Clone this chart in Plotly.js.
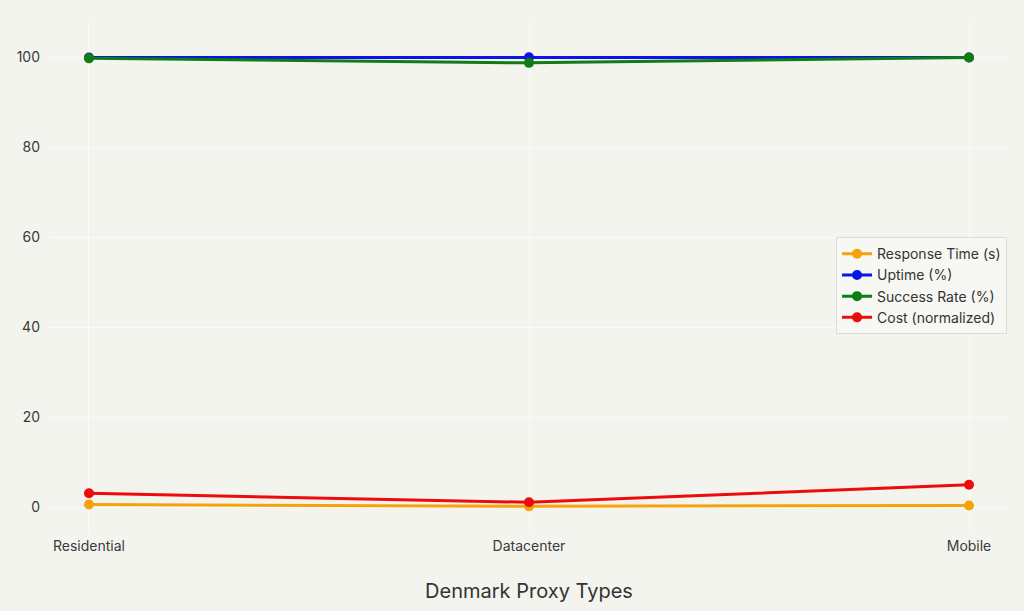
<!DOCTYPE html>
<html>
<head>
<meta charset="utf-8">
<script src="https://cdn.plot.ly/plotly-3.0.1.min.js"></script>
<style>
  html, body { margin: 0; padding: 0; background: #f4f4ef; }
  #chart { width: 1024px; height: 611px; }
</style>
</head>
<body>
<div id="chart"></div>
<script>
const proxyTypes = ['Residential', 'Datacenter', 'Mobile'];
const responseTime = [0.6, 0.2, 0.4];
const uptime = [99.9, 99.95, 99.9];
const successRate = [99.7, 98.7, 99.9];
const costNormalized = [3.1, 1.1, 5.0];

function series(name, values, color) {
  return {
    x: proxyTypes,
    y: values,
    name,
    type: 'scatter',
    mode: 'lines+markers',
    line: { color, width: 3 },
    marker: { color, size: 10 },
  };
}

const traces = [
  series('Response Time (s)', responseTime, '#f6a20a'),
  series('Uptime (%)', uptime, '#0a14e6'),
  series('Success Rate (%)', successRate, '#0d7d14'),
  series('Cost (normalized)', costNormalized, '#ee0b0b'),
];

const layout = {
  width: 1024,
  height: 611,
  margin: { l: 50, r: 16, t: 21, b: 79 },
  paper_bgcolor: '#f4f4ef',
  plot_bgcolor: '#f4f4ef',
  font: { family: 'Inter, "Liberation Sans", sans-serif', color: '#3a3a3a', size: 14 },
  xaxis: {
    type: 'category',
    range: [-0.0886, 2.0886],
    showgrid: true,
    gridcolor: '#fbfbf8',
    zeroline: false,
    ticks: '',
    ticklabelstandoff: 4,
    title: { text: 'Denmark Proxy Types', font: { size: 20, color: '#333' }, standoff: 30 },
  },
  yaxis: {
    range: [-5.5, 108],
    dtick: 20,
    showgrid: true,
    gridcolor: '#fbfbf8',
    zeroline: false,
    ticks: '',
    ticklabelstandoff: 9,
  },
  legend: {
    x: 0.999,
    xanchor: 'right',
    y: 0.577,
    yanchor: 'top',
    bgcolor: '#f7f7f3',
    bordercolor: '#dcdcd8',
    borderwidth: 1,
    font: { size: 14, color: '#333' },
  },
};

Plotly.newPlot('chart', traces, layout, { displayModeBar: false, staticPlot: true });
</script>
</body>
</html>
